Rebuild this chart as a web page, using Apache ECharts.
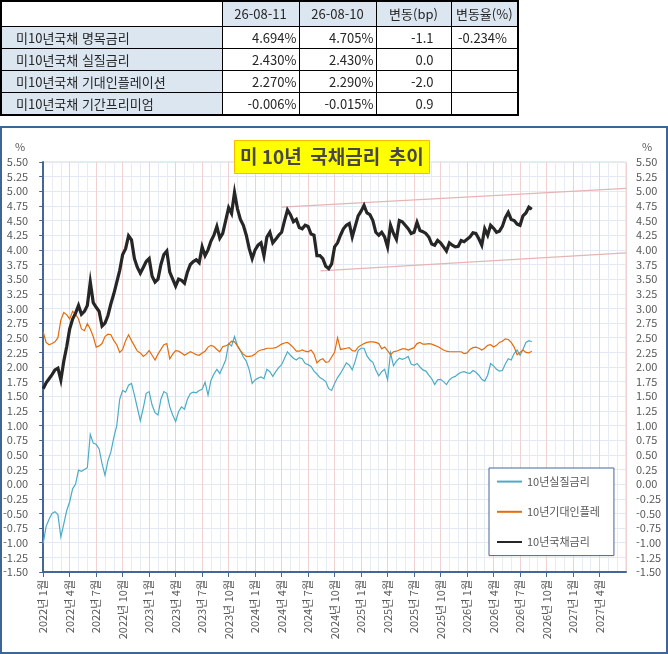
<!DOCTYPE html>
<html lang="ko">
<head>
<meta charset="UTF-8">
<title>미 10년 국채금리 추이</title>
<script src="https://cdn.jsdelivr.net/npm/echarts@6/dist/echarts.min.js"></script>
<style>
    html, body { margin: 0; padding: 0; background: #fff; }
    body { width: 668px; height: 654px; position: relative; overflow: hidden;
           font-family: "Noto Sans CJK KR", "Noto Sans", sans-serif; }
    #chart { position: absolute; left: 0; top: 0; width: 668px; height: 654px; }
    #frame { position: absolute; left: 0; top: 126px; width: 668px; height: 528px;
             border: 2px solid #3e6596; box-sizing: border-box; pointer-events: none; }
    #summary { position: absolute; left: 0; top: 0; width: 517px; table-layout: fixed;
               border-collapse: collapse; border: 2px solid #000; font-size: 13px; color: #262626; }
    #summary td { border: 1px solid #000; padding: 0; white-space: nowrap; line-height: 16px; }
    #summary tr.head td { height: 24px; text-align: center; background: #dce6f1; }
    #summary tr.head td.blank { background: #fff; }
    #summary tr.row td { height: 21px; text-align: right; padding-right: 2px; }
    #summary tr.row td.label { text-align: left; padding-left: 14px; background: #dce6f1; }
    #summary tr.row td.bp { padding-right: 17px; }
    #summary tr.row td.pct { padding-right: 10px; }
</style>
</head>
<body>
<div id="chart"></div>
<div id="frame"></div>
<table id="summary">
    <colgroup>
        <col style="width:221px"><col style="width:77px"><col style="width:77px"><col style="width:75px"><col style="width:67px">
    </colgroup>
    <tbody id="summaryBody"></tbody>
</table>
<script>
    // 상단 표
    var tableHead = ['', '26-08-11', '26-08-10', '변동(bp)', '변동율(%)'];
    var tableLabels = ['미10년국채 명목금리', '미10년국채 실질금리', '미10년국채 기대인플레이션', '미10년국채 기간프리미엄'];
    var latest = ['4.694%', '2.430%', '2.270%', '-0.006%'];
    var previous = ['4.705%', '2.430%', '2.290%', '-0.015%'];
    var changeBp = ['-1.1', '0.0', '-2.0', '0.9'];
    var changePct = ['-0.234%', '', '', ''];

    // 차트 데이터 (매월 1일, 11일, 21일 기준으로 읽은 값)
    var dates = [];
    for (var y = 2022; y <= 2026; y++) {
        for (var mo = 1; mo <= 12; mo++) {
            ['01', '11', '21'].forEach(function (d) {
                var s = y + '-' + (mo < 10 ? '0' + mo : mo) + '-' + d;
                if (s <= '2026-08-11') dates.push(s);
            });
        }
    }

    // 10년국채금리
    var nominal = [
        // 2022
        1.63, 1.73, 1.80, 1.87, 1.95, 1.98, 1.78, 2.10, 2.35, 2.65, 2.82, 2.92,
        3.05, 2.90, 2.95, 3.05, 3.45, 3.10, 3.02, 2.95, 2.70, 2.75, 2.88, 3.08,
        3.25, 3.45, 3.65, 3.92, 4.02, 4.24, 4.17, 3.85, 3.70, 3.60, 3.70, 3.80,
        // 2023
        3.85, 3.55, 3.45, 3.50, 3.75, 3.92, 3.98, 3.62, 3.50, 3.38, 3.50, 3.48,
        3.43, 3.62, 3.75, 3.80, 3.83, 3.78, 4.05, 3.90, 4.00, 4.15, 4.25, 4.40,
        4.20, 4.28, 4.50, 4.72, 4.62, 4.98, 4.70, 4.52, 4.42, 4.25, 4.02, 3.85,
        // 2024
        4.00, 4.08, 4.12, 3.90, 4.22, 4.30, 4.12, 4.18, 4.25, 4.30, 4.50, 4.68,
        4.60, 4.48, 4.52, 4.38, 4.36, 4.42, 4.40, 4.27, 4.25, 3.90, 3.90, 3.85,
        3.72, 3.68, 3.76, 4.05, 4.12, 4.25, 4.36, 4.42, 4.45, 4.22, 4.40, 4.58,
        // 2025
        4.66, 4.76, 4.63, 4.60, 4.50, 4.30, 4.25, 4.30, 4.22, 4.05, 4.42, 4.28,
        4.18, 4.50, 4.48, 4.42, 4.36, 4.28, 4.30, 4.47, 4.33, 4.31, 4.28, 4.22,
        4.10, 4.08, 4.16, 4.12, 4.05, 3.98, 4.12, 4.08, 4.05, 4.06, 4.16, 4.14,
        // 2026
        4.18, 4.22, 4.29, 4.28, 4.19, 4.08, 4.36, 4.25, 4.42, 4.37, 4.30, 4.32,
        4.40, 4.55, 4.64, 4.52, 4.50, 4.44, 4.42, 4.58, 4.63, 4.73, 4.694
    ];

    // 10년기대인플레
    var breakeven = [
        // 2022
        2.60, 2.42, 2.38, 2.40, 2.43, 2.50, 2.80, 2.93, 2.89, 2.82, 2.95, 2.90,
        2.82, 2.65, 2.62, 2.74, 2.65, 2.52, 2.34, 2.36, 2.40, 2.52, 2.56, 2.55,
        2.45, 2.38, 2.25, 2.30, 2.45, 2.55, 2.45, 2.36, 2.27, 2.24, 2.18, 2.22,
        // 2023
        2.28, 2.20, 2.12, 2.22, 2.30, 2.38, 2.40, 2.14, 2.22, 2.28, 2.27, 2.24,
        2.20, 2.23, 2.26, 2.24, 2.21, 2.20, 2.24, 2.27, 2.34, 2.37, 2.35, 2.30,
        2.26, 2.35, 2.36, 2.39, 2.44, 2.43, 2.36, 2.28, 2.22, 2.18, 2.18, 2.19,
        // 2024
        2.22, 2.27, 2.29, 2.30, 2.32, 2.32, 2.32, 2.33, 2.36, 2.39, 2.41, 2.42,
        2.38, 2.33, 2.27, 2.27, 2.29, 2.27, 2.26, 2.29, 2.22, 2.07, 2.12, 2.14,
        2.08, 2.09, 2.17, 2.25, 2.50, 2.30, 2.31, 2.32, 2.33, 2.28, 2.27, 2.34,
        // 2025
        2.37, 2.40, 2.42, 2.43, 2.43, 2.42, 2.40, 2.31, 2.34, 2.28, 2.21, 2.26,
        2.27, 2.29, 2.31, 2.31, 2.29, 2.31, 2.33, 2.40, 2.42, 2.39, 2.39, 2.40,
        2.39, 2.37, 2.35, 2.32, 2.29, 2.27, 2.26, 2.26, 2.26, 2.26, 2.26, 2.23,
        // 2026
        2.24, 2.30, 2.33, 2.34, 2.32, 2.29, 2.32, 2.37, 2.38, 2.34, 2.37, 2.42,
        2.44, 2.48, 2.47, 2.42, 2.34, 2.21, 2.25, 2.29, 2.25, 2.24, 2.27
    ];

    // 10년실질금리
    var realRate = [
        // 2022
        -1.01, -0.72, -0.60, -0.50, -0.47, -0.52, -0.90, -0.68, -0.45, -0.30, -0.08, 0.00,
        0.24, 0.22, 0.25, 0.28, 0.85, 0.70, 0.68, 0.60, 0.35, 0.15, 0.40, 0.55,
        0.80, 1.00, 1.45, 1.60, 1.57, 1.69, 1.72, 1.52, 1.30, 1.08, 1.30, 1.55,
        // 2023
        1.58, 1.35, 1.22, 1.18, 1.45, 1.58, 1.55, 1.32, 1.18, 1.07, 1.24, 1.32,
        1.28, 1.45, 1.55, 1.57, 1.56, 1.60, 1.62, 1.74, 1.52, 1.77, 1.88, 1.96,
        1.89, 2.00, 2.12, 2.40, 2.36, 2.52, 2.36, 2.28, 2.17, 2.10, 1.95, 1.72,
        // 2024
        1.78, 1.81, 1.83, 1.80, 1.96, 1.92, 1.84, 1.92, 1.99, 2.04, 2.15, 2.26,
        2.20, 2.15, 2.12, 2.16, 2.14, 2.06, 2.04, 2.01, 1.93, 1.88, 1.82, 1.79,
        1.75, 1.63, 1.60, 1.72, 1.82, 1.89, 1.98, 2.07, 2.03, 1.95, 2.10, 2.28,
        // 2025
        2.32, 2.32, 2.19, 2.12, 2.08, 1.95, 1.85, 1.92, 1.96, 1.78, 2.24, 2.02,
        2.10, 2.15, 2.13, 2.15, 2.18, 2.05, 2.03, 2.06, 2.00, 1.95, 1.93, 1.86,
        1.80, 1.70, 1.78, 1.79, 1.75, 1.70, 1.78, 1.82, 1.84, 1.88, 1.91, 1.92,
        // 2026
        1.90, 1.89, 1.94, 1.91, 1.86, 1.79, 1.76, 1.86, 2.06, 2.02, 1.96, 1.93,
        1.94, 2.05, 2.14, 2.12, 2.23, 2.29, 2.20, 2.30, 2.42, 2.45, 2.43
    ];

    // 추세선 (시작/끝: [개월 인덱스, 값])
    var upperTrend = [[27, 4.73], [66, 5.05]];
    var lowerTrend = [[31.4, 3.64], [66, 3.95]];

    var seriesNames = ['10년실질금리', '10년기대인플레', '10년국채금리'];

    // 2022년 1월 = 0 기준 개월 수
    function monthIndex(s) {
        var p = s.split('-');
        return (Number(p[0]) - 2022) * 12 + (Number(p[1]) - 1) + (Number(p[2]) - 1) / 30;
    }
    function toPairs(values) {
        var res = [];
        for (var i = 0; i < values.length; i++) {
            res.push([monthIndex(dates[i]), values[i]]);
        }
        return res;
    }

    // 표 만들기
    var body = document.getElementById('summaryBody');
    var head = document.createElement('tr');
    head.className = 'head';
    tableHead.forEach(function (t, i) {
        var td = document.createElement('td');
        td.textContent = t;
        if (i === 0) td.className = 'blank';
        head.appendChild(td);
    });
    body.appendChild(head);
    for (var r = 0; r < tableLabels.length; r++) {
        var tr = document.createElement('tr');
        tr.className = 'row';
        [[tableLabels[r], 'label'], [latest[r], ''], [previous[r], ''], [changeBp[r], 'bp'], [changePct[r], 'pct']].forEach(function (c) {
            var td = document.createElement('td');
            td.textContent = c[0];
            td.className = c[1];
            tr.appendChild(td);
        });
        body.appendChild(tr);
    }

    var axisBlue = '#44679a';
    var labelGrey = '#595959';
    var fontFamily = '"Noto Sans CJK KR", "Noto Sans", sans-serif';

    var chart = echarts.init(document.getElementById('chart'));
    var option = {
        animation: false,
        textStyle: {fontFamily: fontFamily},
        title: {
            text: '미 10년  국채금리  추이',
            left: 234,
            top: 140,
            backgroundColor: '#ffff00',
            borderColor: '#f7be00',
            borderWidth: 1,
            padding: [7, 6, 8, 6],
            textStyle: {fontSize: 19, fontWeight: 'bold', color: '#474747', fontFamily: fontFamily}
        },
        legend: {
            data: seriesNames,
            orient: 'vertical',
            left: 489,
            top: 468,
            padding: [8, 14, 8, 7],
            itemGap: 19,
            itemWidth: 25,
            itemHeight: 14,
            backgroundColor: '#fff',
            borderColor: axisBlue,
            borderWidth: 1,
            itemStyle: {opacity: 0},
            textStyle: {fontSize: 11, color: labelGrey, fontFamily: fontFamily}
        },
        grid: {
            left: 41, right: 42, top: 162, bottom: 82,
            show: true, borderColor: '#efcfd0', borderWidth: 1
        },
        xAxis: {
            type: 'value',
            min: 0,
            max: 66,
            interval: 3,
            axisLine: {show: true, onZero: false, lineStyle: {color: axisBlue, width: 2}},
            axisTick: {show: true, length: 5, lineStyle: {color: axisBlue}},
            axisLabel: {
                rotate: 90,
                margin: 8,
                fontSize: 11,
                color: labelGrey,
                showMaxLabel: false,
                formatter: function (v) {
                    var y = 2022 + Math.floor(v / 12);
                    var m = v % 12 + 1;
                    return y + '년 ' + m + '월';
                }
            },
            splitLine: {show: true, lineStyle: {color: '#efd3d3'}},
            minorTick: {show: false, splitNumber: 3},
            minorSplitLine: {show: true, lineStyle: {color: '#e7ecf4'}}
        },
        yAxis: [{
            type: 'value',
            min: -1.5,
            max: 5.5,
            interval: 0.25,
            position: 'left',
            name: '%',
            nameGap: 15,
            nameTextStyle: {color: labelGrey, fontSize: 11, align: 'right', verticalAlign: 'middle', padding: [0, 18, 0, 0]},
            axisLine: {show: true, lineStyle: {color: axisBlue, width: 2}},
            axisTick: {show: true, length: 4, lineStyle: {color: axisBlue}},
            axisLabel: {fontSize: 11, color: labelGrey, margin: 15, formatter: function (v) { return v.toFixed(2); }},
            splitLine: {show: true, lineStyle: {color: '#e3e9f2'}}
        }, {
            type: 'value',
            min: -1.5,
            max: 5.5,
            interval: 0.25,
            position: 'right',
            name: '%',
            nameGap: 15,
            nameTextStyle: {color: labelGrey, fontSize: 11, align: 'left', verticalAlign: 'middle', padding: [0, 0, 0, 16]},
            axisLine: {show: false},
            axisTick: {show: false},
            axisLabel: {fontSize: 11, color: labelGrey, margin: 10, formatter: function (v) { return v.toFixed(2); }},
            splitLine: {show: false}
        }],
        series: [
            {
                name: '추세상단', type: 'line', data: upperTrend, symbol: 'none', silent: true,
                lineStyle: {color: '#e6b4b4', width: 1.2}, z: 1
            },
            {
                name: '추세하단', type: 'line', data: lowerTrend, symbol: 'none', silent: true,
                lineStyle: {color: '#e6b4b4', width: 1.2}, z: 1
            },
            {
                name: seriesNames[0], type: 'line', data: toPairs(realRate), symbol: 'none', smooth: false,
                lineStyle: {color: '#4bacc6', width: 1.2, join: 'miter'}, itemStyle: {color: '#4bacc6'}, z: 2
            },
            {
                name: seriesNames[1], type: 'line', data: toPairs(breakeven), symbol: 'none', smooth: false,
                lineStyle: {color: '#e46c0a', width: 1.2, join: 'miter'}, itemStyle: {color: '#e46c0a'}, z: 3
            },
            {
                name: seriesNames[2], type: 'line', data: toPairs(nominal), symbol: 'none', smooth: false,
                lineStyle: {color: '#262626', width: 3.2, join: 'miter'}, itemStyle: {color: '#262626'}, z: 4
            }
        ]
    };
    chart.setOption(option);
</script>
</body>
</html>
